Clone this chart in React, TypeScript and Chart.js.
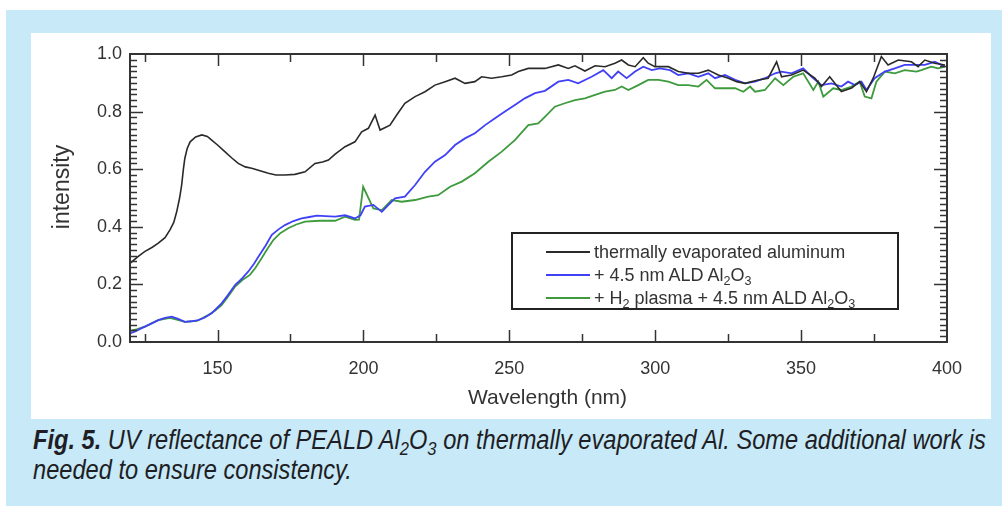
import React, { useEffect, useRef } from "react";
import { Chart, registerables } from "chart.js";

Chart.register(...registerables);

// ---- data ----
const blackWavelength = [
  120, 122.5, 125, 127.5, 129.7, 132, 133.7, 135, 136, 137, 137.7, 138.3, 138.8, 139.6, 140.6, 142.5, 144.6,
  146.5, 148, 150, 152.5, 155, 157.1, 159.5, 161.7, 164, 167.4, 170, 173.1, 176.5, 180, 183.4, 186, 188, 190.3,
  193.7, 197.1, 199.4, 201.7, 204, 205.7, 207.5, 209.1, 211.4, 214.2, 217.7, 221.1, 224.5, 228, 231.4, 234.8,
  238.2, 240.5, 243.9, 247.4, 250.8, 253.1, 256.5, 259.5, 262.2, 266.8, 270.2, 272.5, 275.9, 279.4, 282.8,
  286.2, 288.5, 290.8, 293.1, 295.9, 297.6, 299.9, 304.5, 307.9, 311.3, 314.8, 318.2, 321.6, 325.1, 327.9,
  330.8, 335.3, 338.7, 341.6, 343.3, 346.7, 350.7, 354.7, 357, 359.8, 363.8, 367.3, 370.1, 372.4, 374.7,
  377.5, 379.8, 383.3, 387.8, 390.1, 392.4, 395.8, 399.3,
];
const blackIntensity = [
  0.273, 0.295, 0.314, 0.328, 0.343, 0.362, 0.389, 0.415, 0.452, 0.5, 0.545, 0.6, 0.638, 0.672, 0.695, 0.712, 0.719,
  0.714, 0.701, 0.684, 0.661, 0.638, 0.62, 0.608, 0.603, 0.596, 0.586, 0.58, 0.58, 0.582, 0.591, 0.62, 0.625, 0.632, 0.652,
  0.678, 0.695, 0.73, 0.742, 0.788, 0.736, 0.745, 0.753, 0.788, 0.829, 0.852, 0.869, 0.892, 0.904, 0.916, 0.898,
  0.904, 0.921, 0.916, 0.921, 0.927, 0.939, 0.95, 0.95, 0.95, 0.962, 0.95, 0.959, 0.941, 0.959, 0.956,
  0.968, 0.979, 0.962, 0.956, 0.987, 0.968, 0.956, 0.956, 0.939, 0.933, 0.933, 0.944, 0.927, 0.916, 0.904,
  0.898, 0.91, 0.916, 0.973, 0.921, 0.927, 0.944, 0.916, 0.887, 0.921, 0.87, 0.882, 0.904, 0.869, 0.916,
  0.991, 0.962, 0.979, 0.973, 0.956, 0.979, 0.968, 0.962,
];

const blueWavelength = [
  120, 122, 124, 127, 129.7, 132, 134.3, 136.5, 138.8, 141, 143.4, 145.5, 148, 151.4, 153.5, 156, 158.5, 160.5,
  162.5, 164, 166.5, 168.6, 171, 173.1, 176, 178.8, 181.5, 184, 187, 190.3, 193.7, 197.1, 199, 200.5, 203.4,
  206.3, 208.5, 210.8, 214.2, 217.7, 221.1, 224.5, 228, 231.4, 234.8, 238.2, 241.7, 245.1, 248.5, 251.9, 255.3,
  258.8, 262.2, 266.8, 270.2, 273.6, 278.2, 282.2, 285.1, 287.3, 290.2, 293.1, 295.9, 298.8, 301.6, 305.1,
  307.9, 311.3, 314.8, 318.2, 320.5, 323.9, 327.4, 330.8, 334.2, 337.6, 341.1, 343.3, 346.7, 350.7, 353.6, 357,
  360.4, 363.8, 366.1, 368.4, 370.7, 372.4, 375.2, 378.7, 382.1, 385.5, 388.9, 392.4, 395.8, 399.3,
];
const blueIntensity = [
  0.03, 0.038, 0.048, 0.062, 0.076, 0.084, 0.088, 0.08, 0.07, 0.072, 0.076, 0.084, 0.1, 0.134, 0.162, 0.198, 0.222, 0.244,
  0.272, 0.296, 0.335, 0.372, 0.392, 0.406, 0.42, 0.429, 0.434, 0.439, 0.437, 0.435, 0.44, 0.429, 0.44, 0.47, 0.476,
  0.452, 0.475, 0.499, 0.505, 0.545, 0.591, 0.626, 0.649, 0.684, 0.707, 0.725, 0.753, 0.777, 0.8, 0.823, 0.846,
  0.864, 0.872, 0.904, 0.91, 0.898, 0.921, 0.944, 0.916, 0.939, 0.916, 0.939, 0.956, 0.944, 0.95, 0.944,
  0.927, 0.933, 0.921, 0.933, 0.916, 0.927, 0.91, 0.898, 0.904, 0.916, 0.933, 0.939, 0.933, 0.95, 0.921, 0.892,
  0.898, 0.887, 0.904, 0.892, 0.904, 0.875, 0.916, 0.939, 0.95, 0.962, 0.962, 0.962, 0.973, 0.956,
];

const greenWavelength = [
  120, 122.5, 125.1, 127.5, 129.7, 133.7, 136, 138.8, 142.9, 146.8, 149, 151.4, 153.5, 156, 158.5, 161.1, 163,
  165.1, 167, 169.1, 171.5, 174.2, 177, 180, 185, 190.3, 193.7, 197.1, 198.5, 199.9, 203.4, 206.3, 209.7, 213.1,
  217.7, 222.2, 225.6, 229.7, 233.7, 238.2, 242.8, 247.4, 251.9, 256.5, 259.9, 262.2, 265.6, 269, 272.5, 275.9,
  279.4, 282.8, 286.2, 288.5, 290.8, 294.2, 297.6, 301.1, 304.5, 307.9, 311.3, 314.8, 317.6, 320.5, 323.9,
  327.4, 330.2, 332.5, 334.2, 337.6, 341.1, 343.9, 347.3, 350.7, 354.2, 355.9, 357.6, 361, 363.8, 367.3, 370.1,
  371.8, 374.1, 375.8, 378.7, 382.1, 385.5, 389.5, 391.2, 394.6, 396.9, 399.3,
];
const greenIntensity = [
  0.038, 0.045, 0.053, 0.066, 0.076, 0.084, 0.078, 0.07, 0.073, 0.094, 0.108, 0.128, 0.156, 0.192, 0.215, 0.233, 0.258,
  0.291, 0.322, 0.354, 0.378, 0.395, 0.408, 0.418, 0.421, 0.421, 0.435, 0.424, 0.425, 0.539, 0.464, 0.458, 0.493, 0.487,
  0.493, 0.505, 0.51, 0.539, 0.557, 0.586, 0.626, 0.661, 0.701, 0.753, 0.759, 0.782, 0.817, 0.829, 0.84, 0.846,
  0.858, 0.869, 0.875, 0.887, 0.875, 0.892, 0.91, 0.91, 0.904, 0.892, 0.892, 0.887, 0.91, 0.881, 0.881,
  0.881, 0.869, 0.887, 0.869, 0.875, 0.916, 0.892, 0.921, 0.933, 0.875, 0.904, 0.852, 0.881, 0.875, 0.887, 0.904,
  0.852, 0.846, 0.904, 0.939, 0.933, 0.944, 0.939, 0.944, 0.956, 0.95, 0.956,
];

const xTickValues = [150, 200, 250, 300, 350, 400];
const yTickValues = [0, 0.2, 0.4, 0.6, 0.8, 1.0];
const xRange = [120, 400];
const yRange = [0, 1];
const xTitle = "Wavelength (nm)";
const yTitle = "intensity";

const colorBlack = "#2a2a2a";
const colorBlue = "#4040f6";
const colorGreen = "#3d9a3d";

const FONT = "'Liberation Sans', Arial, Helvetica, sans-serif";

const pairs = (xs: number[], ys: number[]) => xs.map((x, i) => ({ x, y: ys[i] }));

const framePlugin = {
  id: "frameTicks",
  afterDatasetsDraw(chart: any) {
    const { ctx, chartArea: a, scales } = chart;
    const xs = scales.x;
    const ys = scales.y;
    ctx.save();
    ctx.strokeStyle = "#333";
    ctx.lineWidth = 1.5;
    const line = (x1: number, y1: number, x2: number, y2: number) => {
      ctx.beginPath();
      ctx.moveTo(x1, y1);
      ctx.lineTo(x2, y2);
      ctx.stroke();
    };
    for (let i = 1; i < 50; i++) {
      const y = Math.round(ys.getPixelForValue(i * 0.02)) + 0.5;
      const len = i % 10 === 0 ? 13 : 7;
      line(a.left, y, a.left + len, y);
      line(a.right, y, a.right - len, y);
    }
    for (let w = 125; w < 400; w += 25) {
      const x = Math.round(xs.getPixelForValue(w)) + 0.5;
      const len = w % 50 === 0 ? 12 : 8;
      line(x, a.bottom, x, a.bottom - len);
      line(x, a.top, x, a.top + len);
    }
    ctx.lineWidth = 2;
    ctx.strokeStyle = "#333";
    ctx.strokeRect(a.left, a.top, a.right - a.left, a.bottom - a.top);

    // axis titles
    ctx.fillStyle = "#333";
    ctx.textAlign = "center";
    ctx.textBaseline = "middle";
    ctx.font = `21px ${FONT}`;
    ctx.fillText(xTitle, (a.left + a.right) / 2 + 9, a.bottom + 56);
    ctx.translate(a.left - 67, (a.top + a.bottom) / 2 - 11);
    ctx.rotate(-Math.PI / 2);
    ctx.font = `23px ${FONT}`;
    ctx.fillText(yTitle, 0, 0);
    ctx.restore();
  },
};

export default function App() {
  const canvasRef = useRef<HTMLCanvasElement | null>(null);

  useEffect(() => {
    if (!canvasRef.current) return;
    const chart = new Chart(canvasRef.current, {
      type: "line",
      data: {
        datasets: [
          { label: "thermally evaporated aluminum", data: pairs(blackWavelength, blackIntensity), borderColor: colorBlack, borderWidth: 1.6 },
          { label: "+ 4.5 nm ALD Al₂O₃", data: pairs(blueWavelength, blueIntensity), borderColor: colorBlue, borderWidth: 1.8 },
          { label: "+ H₂ plasma + 4.5 nm ALD Al₂O₃", data: pairs(greenWavelength, greenIntensity), borderColor: colorGreen, borderWidth: 1.8 },
        ],
      },
      options: {
        animation: false,
        responsive: false,
        maintainAspectRatio: false,
        layout: { padding: { left: 0, top: 21, right: 44, bottom: 0 } },
        plugins: { legend: { display: false }, tooltip: { enabled: false } },
        elements: { point: { radius: 0 }, line: { tension: 0 } },
        scales: {
          x: {
            type: "linear",
            min: xRange[0],
            max: xRange[1],
            afterFit: (s: any) => { s.height = 77; },
            afterBuildTicks: (s: any) => { s.ticks = xTickValues.map((v) => ({ value: v })); },
            grid: { display: false, drawTicks: false },
            border: { display: false },
            ticks: { padding: 16, color: "#333", font: { family: FONT, size: 18 }, maxRotation: 0, autoSkip: false },
            title: { display: false },
          },
          y: {
            type: "linear",
            min: yRange[0],
            max: yRange[1],
            afterFit: (s: any) => { s.width = 99; },
            afterBuildTicks: (s: any) => { s.ticks = yTickValues.map((v) => ({ value: v })); },
            grid: { display: false, drawTicks: false },
            border: { display: false },
            ticks: { padding: 8, color: "#333", font: { family: FONT, size: 18 }, callback: (v: any) => Number(v).toFixed(1) },
            title: { display: false },
          },
        },
      },
      plugins: [framePlugin],
    } as any);
    return () => chart.destroy();
  }, []);

  const legendRow = (color: string, content: React.ReactNode, top: number) => (
    <div style={{ position: "absolute", left: 0, top, height: 22, display: "flex", alignItems: "center" }}>
      <div style={{ width: 44, height: 0, borderTop: `2px solid ${color}`, marginLeft: 33, marginRight: 4 }} />
      <span style={{ whiteSpace: "nowrap" }}>{content}</span>
    </div>
  );

  const subStyle: React.CSSProperties = { fontSize: "0.7em", verticalAlign: "-0.3em", lineHeight: 0 };
  const capLine: React.CSSProperties = {
    position: "absolute", left: 33, whiteSpace: "nowrap", transform: "scaleX(0.875)", transformOrigin: "left center",
    fontFamily: FONT, fontStyle: "italic", fontSize: 27, lineHeight: "30px", color: "#1e1e24",
  };

  return (
    <div style={{ position: "absolute", left: 0, top: 0, width: 1002, height: 506, background: "#fff", overflow: "hidden" }}>
      <div style={{ position: "absolute", left: 6, top: 10, width: 996, height: 496, background: "#c7e9f8" }} />
      <div style={{ position: "absolute", left: 31, top: 33, width: 960, height: 386, background: "#fff" }} />
      <canvas ref={canvasRef} width={960} height={386} style={{ position: "absolute", left: 31, top: 33, width: 960, height: 386 }} />
      <div
        style={{
          position: "absolute", left: 511, top: 232, width: 384, height: 74, border: "2px solid #222",
          background: "#fff", fontFamily: FONT, fontSize: 18, color: "#333",
        }}
      >
        {legendRow(colorBlack, <>thermally evaporated aluminum</>, 7)}
        {legendRow(colorBlue, <>+ 4.5 nm ALD Al<sub style={subStyle}>2</sub>O<sub style={subStyle}>3</sub></>, 30)}
        {legendRow(colorGreen, <>+ H<sub style={subStyle}>2</sub> plasma + 4.5 nm ALD Al<sub style={subStyle}>2</sub>O<sub style={subStyle}>3</sub></>, 53)}
      </div>
      <div style={{ ...capLine, top: 425 }}>
        <b>Fig. 5.</b> UV reflectance of PEALD Al<sub style={subStyle}>2</sub>O<sub style={subStyle}>3</sub> on thermally evaporated Al. Some additional work is
      </div>
      <div style={{ ...capLine, top: 455 }}>needed to ensure consistency.</div>
    </div>
  );
}
